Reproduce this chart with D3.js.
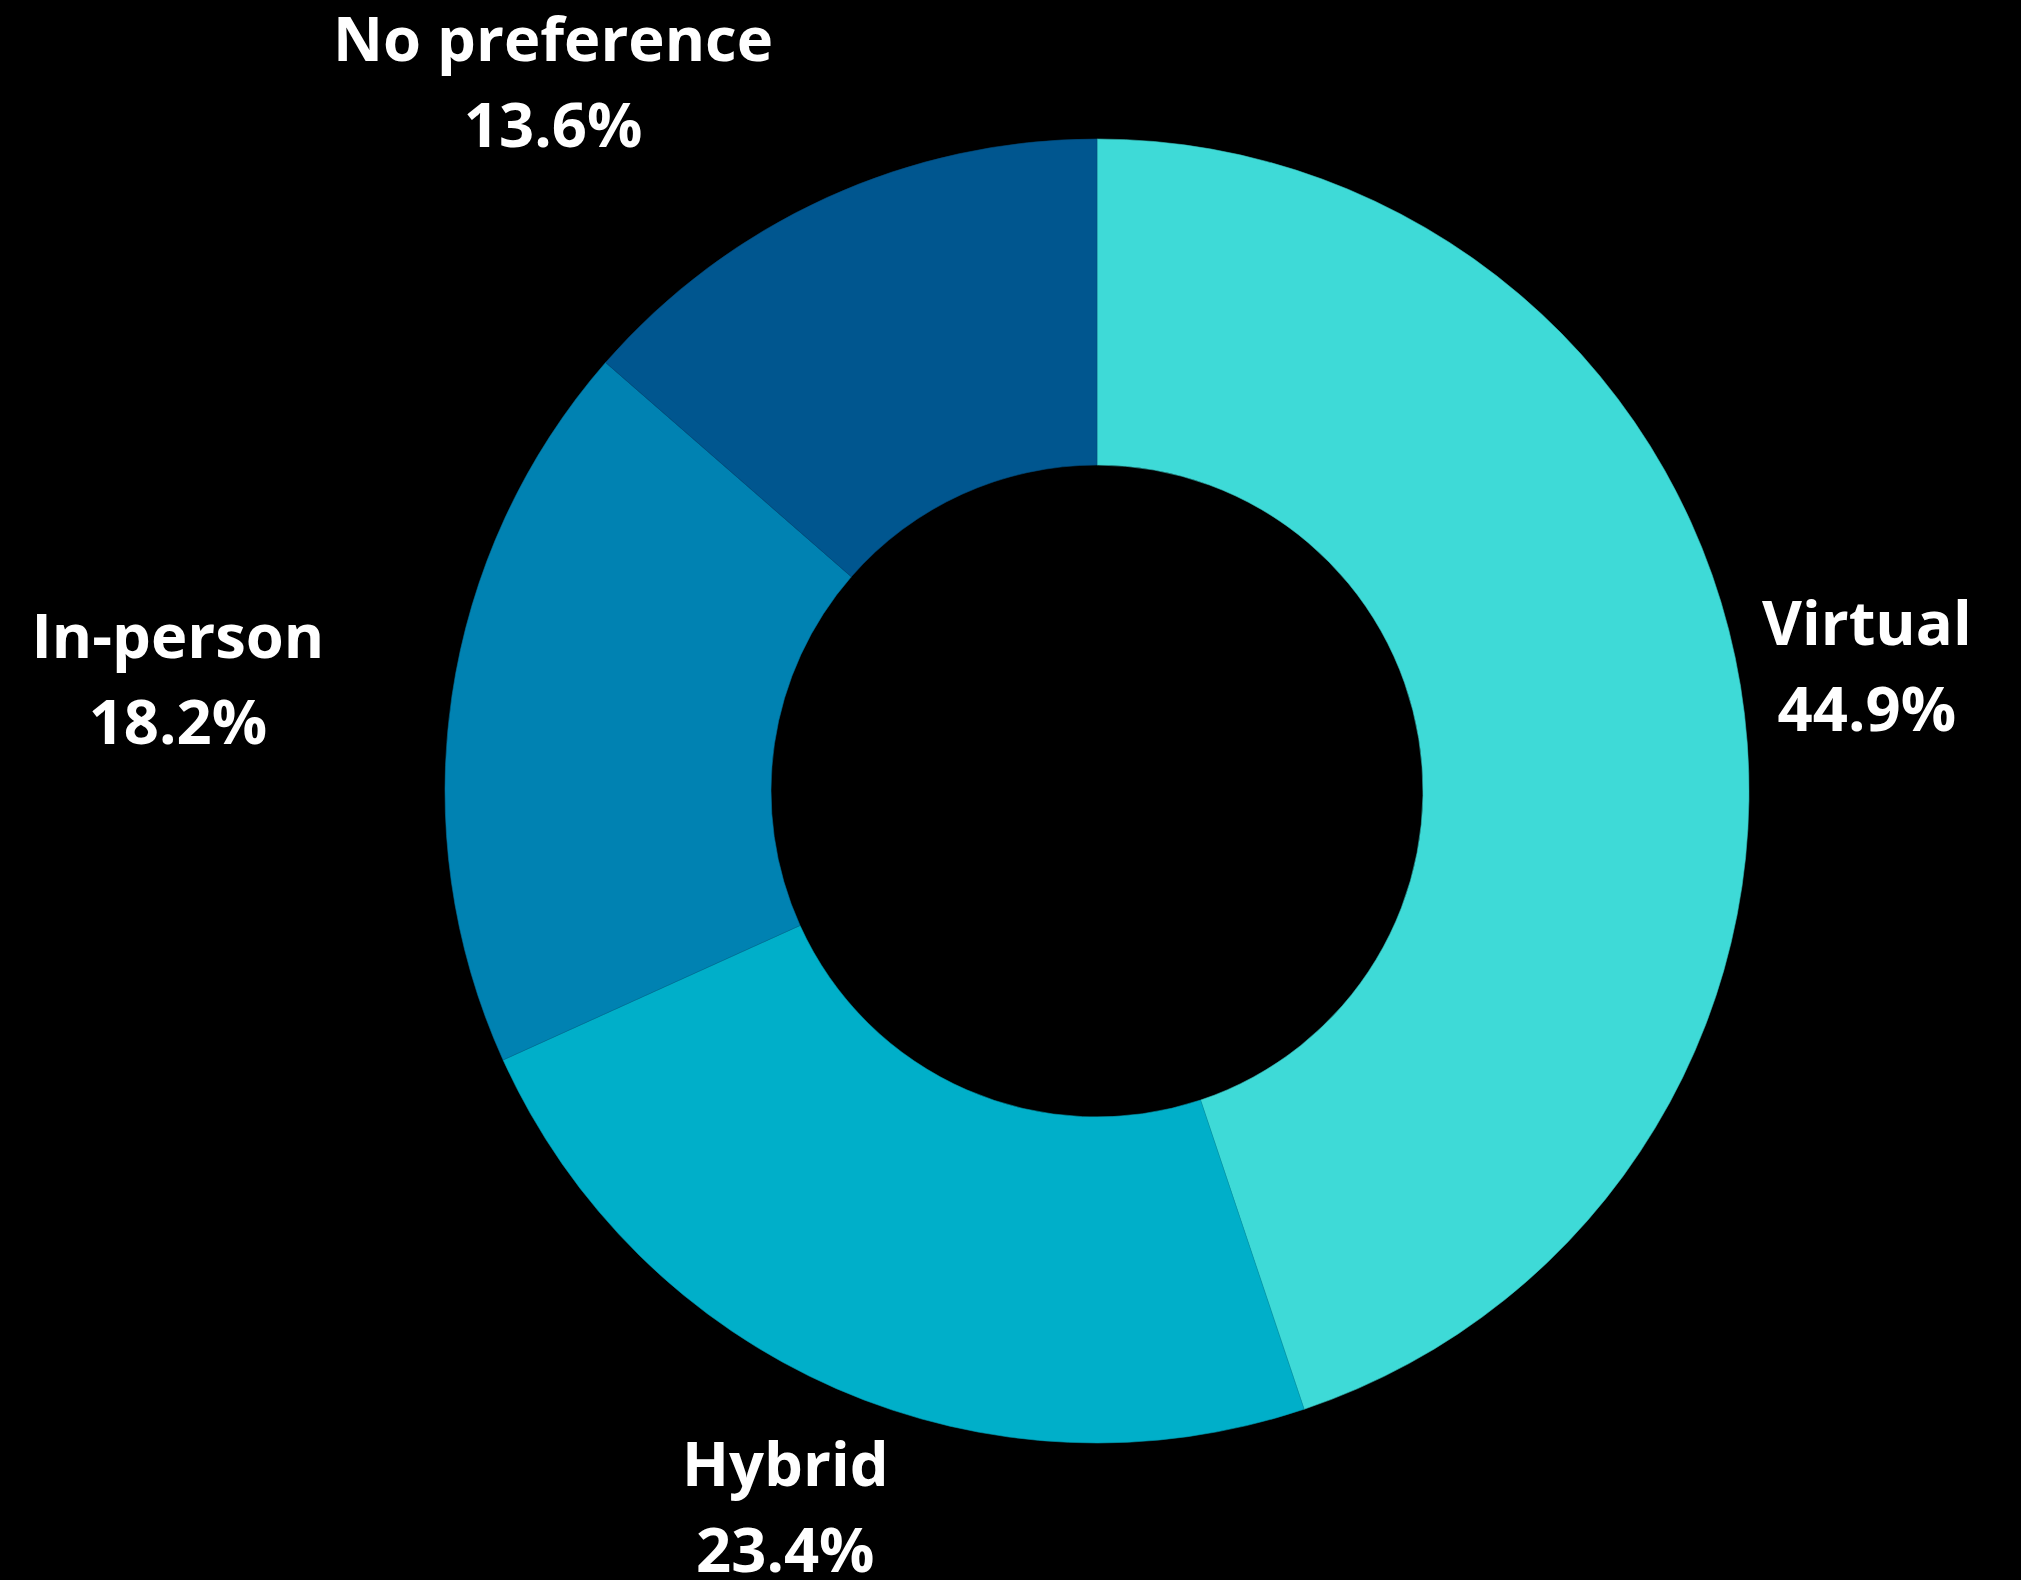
<!DOCTYPE html>
<html>
<head>
<meta charset="utf-8">
<script src="https://cdn.jsdelivr.net/npm/d3@7"></script>
<style>
  html, body { margin: 0; padding: 0; background: #000; }
  svg { display: block; }
  text { font-family: "Open Sans", "Noto Sans", sans-serif; font-weight: 700; fill: #fff; }
</style>
</head>
<body>
<svg id="chart" width="2021" height="1580"></svg>
<script>
// ---- data ----
const categories = ["Virtual", "Hybrid", "In-person", "No preference"];
const shares = [44.9, 23.4, 18.2, 13.6];
const valueLabels = ["44.9%", "23.4%", "18.2%", "13.6%"];
const colors = ["#3EDAD7", "#00AFC9", "#0082B2", "#00568F"];
const labelAlign = ["middle", "middle", "end", "end"];

// ---- layout ----
const W = 2021, H = 1580;
const cx = 1097, cy = 791;
const outerR = 652, innerR = 326, labelR = 780;
const fontSize = 61.5, lineGap = 86;

const svg = d3.select("#chart");
svg.append("rect").attr("width", W).attr("height", H).attr("fill", "#000");

const g = svg.append("g").attr("transform", `translate(${cx},${cy})`);

const rows = categories.map((c, i) => ({ cat: c, value: shares[i], label: valueLabels[i], color: colors[i], align: labelAlign[i] }));

const pie = d3.pie().value(d => d.value).sort(null);
const arcs = pie(rows);

const arc = d3.arc().innerRadius(innerR).outerRadius(outerR);
const labelArc = d3.arc().innerRadius(labelR).outerRadius(labelR);

g.selectAll("path.slice")
  .data(arcs)
  .join("path")
  .attr("class", "slice")
  .attr("d", arc)
  .attr("fill", d => d.data.color)
  .attr("stroke", d => d3.color(d.data.color).darker(0.4))
  .attr("stroke-width", 0.6);

const labels = g.selectAll("g.label")
  .data(arcs)
  .join("g")
  .attr("class", "label");

labels.each(function(d) {
  const sel = d3.select(this);
  const [x, y] = labelArc.centroid(d);
  const t1 = sel.append("text")
    .attr("text-anchor", "middle")
    .attr("font-size", fontSize)
    .attr("y", -20)
    .text(d.data.cat);
  const t2 = sel.append("text")
    .attr("text-anchor", "middle")
    .attr("font-size", fontSize)
    .attr("y", -20 + lineGap)
    .text(d.data.label);
  let w = Math.max(t1.node().getComputedTextLength(), t2.node().getComputedTextLength());
  let dx = 0;
  if (d.data.align === "end") dx = -w / 2 - 1;
  sel.attr("transform", `translate(${x + dx},${y})`);
});
</script>
</body>
</html>
